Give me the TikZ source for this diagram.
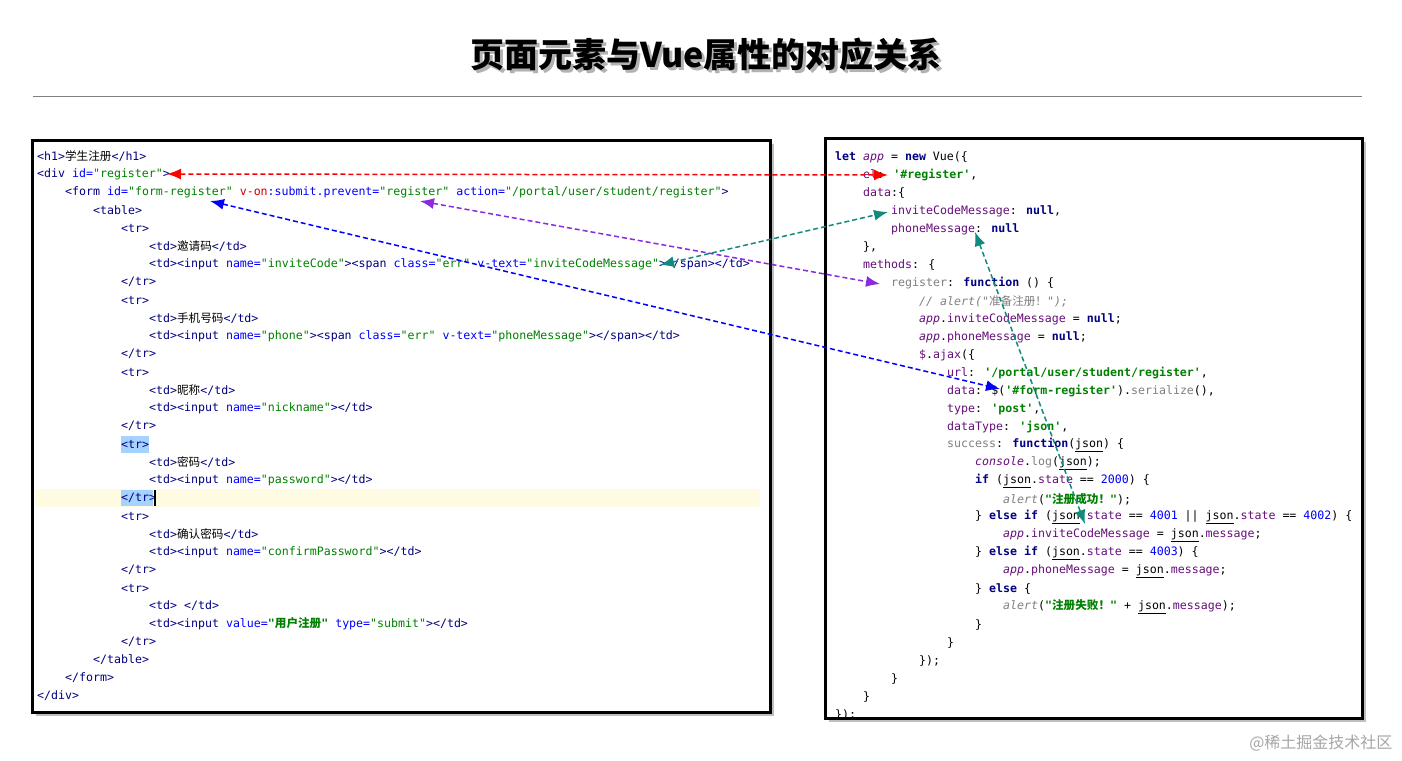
\documentclass[tikz,border=0pt]{standalone}
\usepackage{fontspec}
\usetikzlibrary{arrows.meta}
\newfontfamily\mono{DejaVu Sans Mono}
\newfontfamily\cjk{Noto Sans CJK SC}
\definecolor{tagc}{HTML}{000080}
\definecolor{attc}{HTML}{0000FF}
\definecolor{valc}{HTML}{008000}
\definecolor{propc}{HTML}{660E7A}
\definecolor{grayc}{HTML}{808080}
\definecolor{numc}{HTML}{0000FF}
\definecolor{tealc}{HTML}{138A7E}
\definecolor{purpc}{HTML}{8A2BE2}
\definecolor{hlc}{HTML}{FEFBE2}
\definecolor{selc}{HTML}{A6D2FF}
\newcommand\zh[1]{{\cjk #1}}
\newcommand\ctag[1]{\textcolor{tagc}{#1}}
\newcommand\catt[1]{\textcolor{attc}{#1}}
\newcommand\cval[1]{\textcolor{valc}{#1}}
\newcommand\ckw[1]{\textcolor{tagc}{\bfseries #1}}
\newcommand\cstr[1]{\textcolor{valc}{\bfseries #1}}
\newcommand\cprop[1]{\textcolor{propc}{#1}}
\newcommand\capp[1]{\textcolor{propc}{\itshape #1}}
\newcommand\ccm[1]{\textcolor{grayc}{\itshape #1}}
\newcommand\cnum[1]{\textcolor{numc}{#1}}
\tikzset{
  code/.style={anchor=west,inner sep=0pt,font=\mono\fontsize{11.6}{12}\selectfont},
  link/.style={line width=1.5pt,dash pattern=on 5pt off 3pt,{Latex[length=14pt,width=11pt]}-{Latex[length=14pt,width=11pt]}},
  panel/.style={draw=black,line width=3pt}
}
\begin{document}
\begin{tikzpicture}[x=1pt,y=-1pt]
\useasboundingbox (0,0) rectangle (1402,760);
\fill[white] (0,0) rectangle (1402,760);
% title
\node[font=\cjk\bfseries\fontsize{34}{36}\selectfont,text=gray!60] at (709,58) {页面元素与Vue属性的对应关系};
\node[font=\cjk\bfseries\fontsize{34}{36}\selectfont] (title) at (706,55) {页面元素与Vue属性的对应关系};
\draw[gray,line width=1pt] (33,96) -- (1362,96);
% panels
\fill[gray!50] (36,144) rectangle (774,716);
\fill[gray!50] (829,142) rectangle (1366,722);
\fill[white] (32,140) rectangle (770,712);
\fill[white] (825,138) rectangle (1362,718);
\fill[hlc] (35,489) rectangle (760,507);
\fill[selc] (121,436) rectangle (149,453);
\fill[selc] (121,490) rectangle (153,506);
\draw[panel] (32,140) rectangle (770,712);
\draw[panel] (825,138) rectangle (1362,718);
% left code
\node[code] (l1) at (37,156) {\ctag{<h1>}\zh{学生注册}\ctag{</h1>}};
\node[code] (l2) at (37,174) {\ctag{<div} \catt{id=}\cval{"register"}\ctag{>}};
\node[code] (l3) at (65,192) {\ctag{<form} \catt{id=}\cval{"form-register"} \textcolor{red!80!black}{v-on}\catt{:submit.prevent=}\cval{"register"} \catt{action=}\cval{"/portal/user/student/register"}\ctag{>}};
\node[code] (l4) at (93,210) {\ctag{<table>}};
\node[code] (l5) at (121,228) {\ctag{<tr>}};
\node[code] (l6) at (149,246) {\ctag{<td>}\zh{邀请码}\ctag{</td>}};
\node[code] (l7) at (149,264) {\ctag{<td><input} \catt{name=}\cval{"inviteCode"}\ctag{><span} \catt{class=}\cval{"err"} \catt{v-text=}\cval{"inviteCodeMessage"}\ctag{></span></td>}};
\node[code] (l8) at (121,282) {\ctag{</tr>}};
\node[code] (l9) at (121,300) {\ctag{<tr>}};
\node[code] (l10) at (149,318) {\ctag{<td>}\zh{手机号码}\ctag{</td>}};
\node[code] (l11) at (149,336) {\ctag{<td><input} \catt{name=}\cval{"phone"}\ctag{><span} \catt{class=}\cval{"err"} \catt{v-text=}\cval{"phoneMessage"}\ctag{></span></td>}};
\node[code] (l12) at (121,354) {\ctag{</tr>}};
\node[code] (l13) at (121,372) {\ctag{<tr>}};
\node[code] (l14) at (149,390) {\ctag{<td>}\zh{昵称}\ctag{</td>}};
\node[code] (l15) at (149,408) {\ctag{<td><input} \catt{name=}\cval{"nickname"}\ctag{></td>}};
\node[code] (l16) at (121,426) {\ctag{</tr>}};
\node[code] (l17) at (121,444) {\ctag{<tr>}};
\node[code] (l18) at (149,462) {\ctag{<td>}\zh{密码}\ctag{</td>}};
\node[code] (l19) at (149,480) {\ctag{<td><input} \catt{name=}\cval{"password"}\ctag{></td>}};
\node[code] (l20) at (121,498) {\ctag{</tr>}};
\fill[black] (154,490) rectangle (156,506);
\node[code] (l21) at (121,516) {\ctag{<tr>}};
\node[code] (l22) at (149,534) {\ctag{<td>}\zh{确认密码}\ctag{</td>}};
\node[code] (l23) at (149,552) {\ctag{<td><input} \catt{name=}\cval{"confirmPassword"}\ctag{></td>}};
\node[code] (l24) at (121,570) {\ctag{</tr>}};
\node[code] (l25) at (121,588) {\ctag{<tr>}};
\node[code] (l26) at (149,606) {\ctag{<td>\ </td>}};
\node[code] (l27) at (149,624) {\ctag{<td><input} \catt{value=}\textcolor{valc}{\bfseries "\zh{用户注册}"} \catt{type=}\cval{"submit"}\ctag{></td>}};
\node[code] (l28) at (121,642) {\ctag{</tr>}};
\node[code] (l29) at (93,660) {\ctag{</table>}};
\node[code] (l30) at (65,678) {\ctag{</form>}};
\node[code] (l31) at (37,696) {\ctag{</div>}};
% right code
\node[code] (r1) at (835,157) {\ckw{let} \capp{app} = \ckw{new} Vue(\{};
\node[code] (r2) at (863,175) {\cprop{el}: \cstr{'\#register'},};
\node[code] (r3) at (863,193) {\cprop{data}:\{};
\node[code] (r4) at (891,211) {\cprop{inviteCodeMessage}: \ckw{null},};
\node[code] (r5) at (891,229) {\cprop{phoneMessage}: \ckw{null}};
\node[code] (r6) at (863,247) {\},};
\node[code] (r7) at (863,265) {\cprop{methods}: \{};
\node[code] (r8) at (891,283) {\textcolor{grayc}{register}: \ckw{function} () \{};
\node[code] (r9) at (919,301) {\ccm{// alert("\zh{准备注册！}");}};
\node[code] (r10) at (919,319) {\capp{app}.\cprop{inviteCodeMessage} = \ckw{null};};
\node[code] (r11) at (919,337) {\capp{app}.\cprop{phoneMessage} = \ckw{null};};
\node[code] (r12) at (919,355) {\cprop{\$}.\cprop{ajax}(\{};
\node[code] (r13) at (947,373) {\cprop{url}: \cstr{'/portal/user/student/register'},};
\node[code] (r14) at (947,391) {\cprop{data}: \$(\cstr{'\#form-register'}).\textcolor{grayc}{serialize}(),};
\node[code] (r15) at (947,409) {\cprop{type}: \cstr{'post'},};
\node[code] (r16) at (947,427) {\cprop{dataType}: \cstr{'json'},};
\node[code] (r17) at (947,445) {\textcolor{grayc}{success}: \ckw{function}(\underline{json}) \{};
\node[code] (r18) at (975,463) {\capp{console}.\textcolor{grayc}{log}(\underline{json});};
\node[code] (r19) at (975,481) {\ckw{if} (\underline{json}.\cprop{state} == \cnum{2000}) \{};
\node[code] (r20) at (1003,499) {\ccm{alert}(\cstr{"\zh{注册成功！}"});};
\node[code] (r21) at (975,517) {\} \ckw{else if} (\underline{json}.\cprop{state} == \cnum{4001} || \underline{json}.\cprop{state} == \cnum{4002}) \{};
\node[code] (r22) at (1003,535) {\capp{app}.\cprop{inviteCodeMessage} = \underline{json}.\cprop{message};};
\node[code] (r23) at (975,553) {\} \ckw{else if} (\underline{json}.\cprop{state} == \cnum{4003}) \{};
\node[code] (r24) at (1003,571) {\capp{app}.\cprop{phoneMessage} = \underline{json}.\cprop{message};};
\node[code] (r25) at (975,589) {\} \ckw{else} \{};
\node[code] (r26) at (1003,607) {\ccm{alert}(\cstr{"\zh{注册失败！}"} + \underline{json}.\cprop{message});};
\node[code] (r27) at (975,625) {\}};
\node[code] (r28) at (947,643) {\}};
\node[code] (r29) at (919,661) {\});};
\node[code] (r30) at (891,679) {\}};
\node[code] (r31) at (863,697) {\}};
\node[code] (r32) at (835,715) {\});};
% watermark
\node[font=\cjk\fontsize{16}{18}\selectfont,text=gray!70,anchor=east] (wm) at (1396,743) {@稀土掘金技术社区};
% connector endpoints
\coordinate (aL) at (167,174); \coordinate (aR) at (888,175);
\coordinate (bL) at (420,201); \coordinate (bR) at (880,284);
\coordinate (cL) at (210,201); \coordinate (cR) at (1000,389);
\coordinate (dL) at (660,265); \coordinate (dR) at (888,212);
\coordinate (eT) at (975,232); \coordinate (eB) at (1085,524);
\draw[link,red] (aL) -- (aR);
\draw[link,purpc] (bL) -- (bR);
\draw[link,blue] (cL) -- (cR);
\draw[link,tealc] (dL) -- (dR);
\draw[link,tealc] (eT) -- (eB);
\end{tikzpicture}
\end{document}
